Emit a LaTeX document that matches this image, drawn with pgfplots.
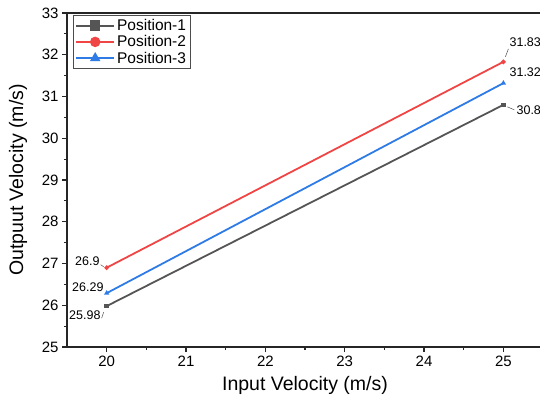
\documentclass[border=0pt]{standalone}
\usepackage{pgfplots}
\pgfplotsset{compat=1.18}
\usepackage{fontspec}
\setmainfont{Liberation Sans}
\definecolor{c1}{HTML}{555555}
\definecolor{c2}{HTML}{F04545}
\definecolor{c3}{HTML}{2E7BE6}
\begin{document}
\begin{tikzpicture}[x=1pt,y=1pt]
\useasboundingbox (0,0) rectangle (540,400);
\clip (0,0) rectangle (540,400);
\begin{axis}[
  at={(67pt,53pt)}, anchor=south west,
  scale only axis, width=484pt, height=334pt,
  xmin=19.5, xmax=25.6, ymin=25, ymax=33,
  xtick={20,21,22,23,24,25}, ytick={25,26,27,28,29,30,31,32,33},
  minor x tick num=1, minor y tick num=1,
  tick pos=left, tick align=outside,
  major tick length=5pt, minor tick length=3pt,
  axis line style={line width=1.6pt, color=black!85},
  every tick/.style={line width=1.2pt, color=black!85},
  /pgf/number format/assume math mode=true,
  ticklabel style={font=\fontsize{15}{17}\selectfont},
  xlabel={Input Velocity (m/s)}, ylabel={Outpuut Velocity (m/s)},
  label style={font=\fontsize{19.5}{21}\selectfont},
  xlabel style={at={(axis description cs:0.5,-0.114)}, anchor=center, xshift=-4pt},
  ylabel style={at={(axis description cs:-0.101,0.5)}, anchor=center},
  legend style={at={(axis description cs:0.0124,0.994)}, anchor=north west,
    draw=black!70, line width=0.6pt, font=\fontsize{15.5}{17}\selectfont,
    inner sep=2pt, row sep=-0.5pt},
  legend cell align=left,
  legend image code/.code={\draw[mark repeat=2,mark phase=2,#1,mark size=4.3pt] plot coordinates {(0pt,0pt)(19pt,0pt)(38pt,0pt)};},
  mark size=1.3pt,
]
\addplot[c1, line width=1.8pt, mark=square*] coordinates {(20,25.98) (25,30.8)};
\addlegendentry{Position-1}
\addplot[c2, line width=1.8pt, mark=*] coordinates {(20,26.9) (25,31.83)};
\addlegendentry{Position-2}
\addplot[c3, line width=1.8pt, mark=triangle*] coordinates {(20,26.29) (25,31.32)};
\addlegendentry{Position-3}
\begin{scope}[every node/.style={font=\fontsize{12.5}{13}\selectfont, inner sep=0pt}]
\node[anchor=east] at ([xshift=-7pt,yshift=6pt]axis cs:20,26.9) {26.9};
\draw[black!70, line width=0.5pt] ([xshift=-6pt,yshift=3pt]axis cs:20,26.9) -- ([xshift=-3pt,yshift=1pt]axis cs:20,26.9);
\node[anchor=east] at ([xshift=-3pt,yshift=6pt]axis cs:20,26.29) {26.29};
\node[anchor=east] at ([xshift=-6pt,yshift=-9pt]axis cs:20,25.98) {25.98};
\draw[black!70, line width=0.5pt] ([xshift=-5pt,yshift=-12pt]axis cs:20,25.98) -- ([xshift=-3pt,yshift=-6pt]axis cs:20,25.98);
\node[anchor=west] at ([xshift=6pt,yshift=20pt]axis cs:25,31.83) {31.83};
\draw[black!70, line width=0.5pt] ([xshift=2pt,yshift=5pt]axis cs:25,31.83) -- ([xshift=5pt,yshift=13pt]axis cs:25,31.83);
\node[anchor=west] at ([xshift=6pt,yshift=11pt]axis cs:25,31.32) {31.32};
\node[anchor=west] at ([xshift=13pt,yshift=-5pt]axis cs:25,30.8) {30.8};
\draw[black!70, line width=0.5pt] ([xshift=4pt,yshift=-2pt]axis cs:25,30.8) -- ([xshift=11pt,yshift=-5pt]axis cs:25,30.8);
\end{scope}
\end{axis}
\end{tikzpicture}
\end{document}
